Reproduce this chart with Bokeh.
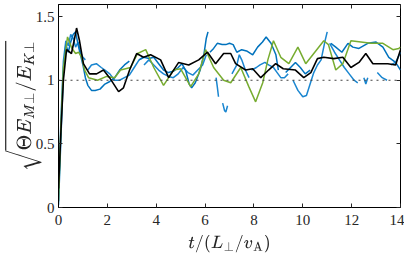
import numpy as np
from bokeh.plotting import figure
from bokeh.models import LinearAxis, Span, FixedTicker, CustomLabelingPolicy
from bokeh.embed import file_html
from bokeh.resources import INLINE

nan = float("nan")

# ---- data ----
black_t = [0.0, 0.1, 0.2, 0.33, 0.53, 0.65, 0.74, 0.86, 1.02, 1.27, 1.56, 1.84, 2.09, 2.46, 2.66, 2.91,
           3.2, 3.48, 3.77, 4.18, 4.51, 4.92, 5.33, 5.74, 6.1, 6.43, 6.76, 7.05, 7.25, 7.66, 7.95,
           8.28, 8.6, 8.89, 9.2, 9.7, 10.04, 10.33, 10.6, 10.86, 11.27, 11.64, 11.97, 12.3, 12.58,
           12.87, 13.07, 13.48, 13.8, 14.0]
black_v = [0.15, 0.6, 1.0, 1.24, 1.21, 1.32, 1.41, 1.31, 1.13, 1.05, 1.05, 1.08, 1.02, 0.91, 0.94, 1.08,
           1.21, 1.18, 1.20, 1.16, 1.02, 1.14, 1.12, 1.16, 1.22, 1.13, 1.21, 1.21, 1.13, 1.08, 1.09,
           1.02, 1.08, 1.13, 1.09, 1.08, 1.02, 1.06, 1.17, 1.18, 1.17, 1.18, 1.10, 1.14, 1.21,
           1.13, 1.13, 1.13, 1.12, 1.24]

green_t = [0.0, 0.1, 0.2, 0.37, 0.55, 0.7, 0.82, 0.95, 1.07, 1.23, 1.6, 1.97, 2.3, 2.54, 2.95, 3.24,
           3.57, 3.9, 4.3, 4.71, 5.0, 5.41, 5.74, 6.02, 6.35, 6.76, 7.05, 7.46, 7.79, 8.07, 8.36,
           8.57, 8.8, 9.1, 9.43, 9.8, 10.12, 10.45, 10.86, 11.05, 11.35, 11.64, 11.97, 12.38, 12.79,
           13.28, 13.69, 13.93, 14.0]
green_v = [0.05, 0.65, 1.1, 1.34, 1.25, 1.21, 1.22, 1.18, 1.08, 1.02, 1.0, 1.03, 1.02, 1.08, 1.10, 1.21,
           1.24, 1.10, 0.96, 1.08, 1.09, 0.95, 1.05, 1.24, 1.10, 1.0, 0.98, 1.10, 0.95, 0.83, 0.98,
           1.16, 1.31, 1.18, 1.13, 1.26, 1.13, 1.21, 1.31, 1.28, 1.08, 1.13, 1.31, 1.30, 1.29,
           1.29, 1.24, 1.25, 1.26]

blue1_t = [0.0, 0.1, 0.2, 0.3, 0.4, 0.5, 0.6, 0.7, 0.8, 0.9, 1.0, 1.1, 1.2, 1.35, 1.5, 1.7, 1.9, 2.1,
           2.3, 2.5, 2.7, 2.9, nan,
           3.3, 3.5, 3.7, 3.9, 4.1, 4.3, 4.5, 4.7, 4.9, 5.05, 5.2, 5.35, 5.45, 5.6, 5.8, 5.95, 6.05, 6.12, nan,
           6.2, 6.35, 6.5, 6.7, 6.85, 7.0, 7.15, 7.3, 7.5, 7.7, 7.95, 8.15, 8.35, 8.5, 8.7, 8.9, 9.0, nan,
           9.3, 9.5, 9.7, 9.9, 10.1, 10.3, nan,
           11.15, 11.35, 11.6, 11.85, 12.05, 12.3, 12.66, 13.0, 13.28, 13.52, 13.8, 14.0]
blue1_v = [0.02, 0.55, 1.05, 1.28, 1.22, 1.30, 1.36, 1.38, 1.28, 1.20, 1.12, 1.02, 0.96, 0.92, 0.92, 0.93,
           0.97, 0.99, 1.02, 1.08, 1.12, 1.15, nan,
           1.16, 1.18, 1.17, 1.18, 1.13, 1.08, 1.06, 1.07, 1.10, 1.13, 1.08, 0.97, 0.94, 0.98, 1.08, 1.20,
           1.33, 1.38, nan,
           1.22, 1.25, 1.29, 1.28, 1.28, 1.29, 1.28, 1.22, 1.24, 1.23, 1.20, 1.26, 1.30, 1.34, 1.29, 1.20,
           1.08, nan,
           1.06, 1.10, 1.14, 1.10, 1.05, 1.08, nan,
           1.29, 1.26, 1.22, 1.29, 1.26, 1.25, 1.29, 1.30, 1.26, 1.18, 1.14, 1.08]

blue2_t = [0.0, 0.1, 0.2, 0.3, 0.4, 0.5, 0.6, 0.7, 0.8, 0.9, 1.0, 1.1, nan,
           1.2, 1.35, 1.55, 1.75, 1.9, 2.1, 2.3, 2.5, 2.7, 2.9, 3.1, 3.3, 3.45, nan,
           3.5, 3.7, 3.9, 4.1, 4.3, 4.5, 4.7, 4.9, 5.1, 5.3, 5.5, 5.7, 5.9, 6.05, nan,
           6.45, 6.5, 6.55, nan, 6.72, 6.8, 6.85, 6.92, nan,
           7.1, 7.3, 7.4, 7.5, 7.65, 7.8, nan,
           7.9, 8.1, 8.25, 8.45, 8.6, 8.8, 8.95, 9.1, 9.25, 9.4, nan,
           9.6, 9.8, 10.0, 10.15, 10.3, 10.45, 10.6, 10.75, 10.9, 11.0, nan,
           11.1, 11.3, 11.5, 11.7, 11.9, 12.1, 12.25, nan,
           12.5, 12.58, 12.66, nan, 13.05, 13.25, 13.45, nan,
           13.6, 13.8, 14.0]
blue2_v = [0.05, 0.7, 1.15, 1.31, 1.27, 1.36, 1.33, 1.26, 1.30, 1.22, 1.18, 1.16, nan,
           1.08, 1.12, 1.13, 1.10, 1.08, 1.05, 1.00, 1.00, 1.02, 1.04, 1.10, 1.16, 1.18, nan,
           1.12, 1.16, 1.12, 1.08, 1.05, 1.03, 1.02, 1.05, 1.10, 1.06, 1.04, 1.08, 1.12, 1.20, nan,
           1.02, 0.95, 0.87, nan, 0.82, 0.76, 0.75, 0.80, nan,
           1.05, 1.12, 1.20, 1.16, 1.08, 1.02, nan,
           1.08, 1.10, 1.12, 1.14, 1.12, 1.10, 1.06, 1.02, 1.02, 1.05, nan,
           1.0, 0.92, 0.87, 0.88, 0.97, 1.06, 1.12, 1.16, 1.30, 1.38, nan,
           1.29, 1.22, 1.16, 1.10, 1.05, 1.00, 0.98, nan,
           1.02, 0.97, 1.02, nan, 1.06, 1.02, 1.00, nan,
           1.12, 1.14, 1.22]

x_ticks = [0, 2, 4, 6, 8, 10, 12, 14]
y_ticks = [0, 0.5, 1, 1.5]
y_tick_labels = ["0", "0.5", "1", "1.5"]
ref_level = 1.0

p = figure(frame_width=342, frame_height=203, x_range=(0, 14), y_range=(0, 1.595),
           output_backend="svg", toolbar_location=None,
           min_border_left=50, min_border_right=0, min_border_top=0, min_border_bottom=44)
p.grid.visible = False
p.outline_line_color = "black"
p.outline_line_width = 1
p.background_fill_color = "white"
p.border_fill_color = "white"

p.add_layout(Span(location=ref_level, dimension="width", line_color="#444444",
                  line_dash="2 4", line_width=1.2))

p.line(blue2_t, blue2_v, line_color="#1a86d0", line_width=1.5)
p.line(blue1_t, blue1_v, line_color="#0072BD", line_width=1.5)
p.line(green_t, green_v, line_color="#77AC30", line_width=1.5)
p.line(black_t, black_v, line_color="black", line_width=1.6)

font = "Liberation Serif"
for ax in [p.xaxis[0], p.yaxis[0]]:
    ax.major_tick_in = 4
    ax.major_tick_out = 0
    ax.minor_tick_in = 0
    ax.minor_tick_out = 0
    ax.major_label_text_font = font
    ax.major_label_text_font_size = "15px"
    ax.major_label_text_color = "#262626"
    ax.axis_line_color = "black"
    ax.major_tick_line_color = "#262626"
    ax.axis_label_text_font_style = "normal"
    ax.axis_label_text_color = "#262626"

p.xaxis[0].ticker = FixedTicker(ticks=x_ticks)
p.yaxis[0].ticker = FixedTicker(ticks=y_ticks)
p.yaxis[0].major_label_overrides = {t: s for t, s in zip(y_ticks, y_tick_labels)}
p.xaxis[0].major_label_standoff = 7
p.yaxis[0].major_label_standoff = 4
p.xaxis[0].axis_label = r"$$t/(L_\perp/v_\mathrm{A})$$"
p.yaxis[0].axis_label = r"$$\sqrt{\Theta E_{M\perp}/E_{K\perp}}$$"
p.xaxis[0].axis_label_text_font_size = "14px"
p.yaxis[0].axis_label_text_font_size = "16px"
p.xaxis[0].axis_label_standoff = 7
p.yaxis[0].axis_label_standoff = -9

hide_labels = CustomLabelingPolicy(
    code="const r = indices.clone(); for (let i = 0; i < r.size; i++) { r.unset(i) } return r")

top = LinearAxis(ticker=FixedTicker(ticks=x_ticks))
right = LinearAxis(ticker=FixedTicker(ticks=y_ticks))
for ax in [top, right]:
    ax.major_tick_in = 4
    ax.major_tick_out = 0
    ax.minor_tick_in = 0
    ax.minor_tick_out = 0
    ax.major_label_policy = hide_labels
    ax.major_label_text_font_size = "1px"
    ax.major_label_standoff = 0
    ax.axis_line_color = None
    ax.major_tick_line_color = "#262626"
p.add_layout(top, "above")
p.add_layout(right, "right")

open("out.html", "w").write(file_html(p, INLINE))
